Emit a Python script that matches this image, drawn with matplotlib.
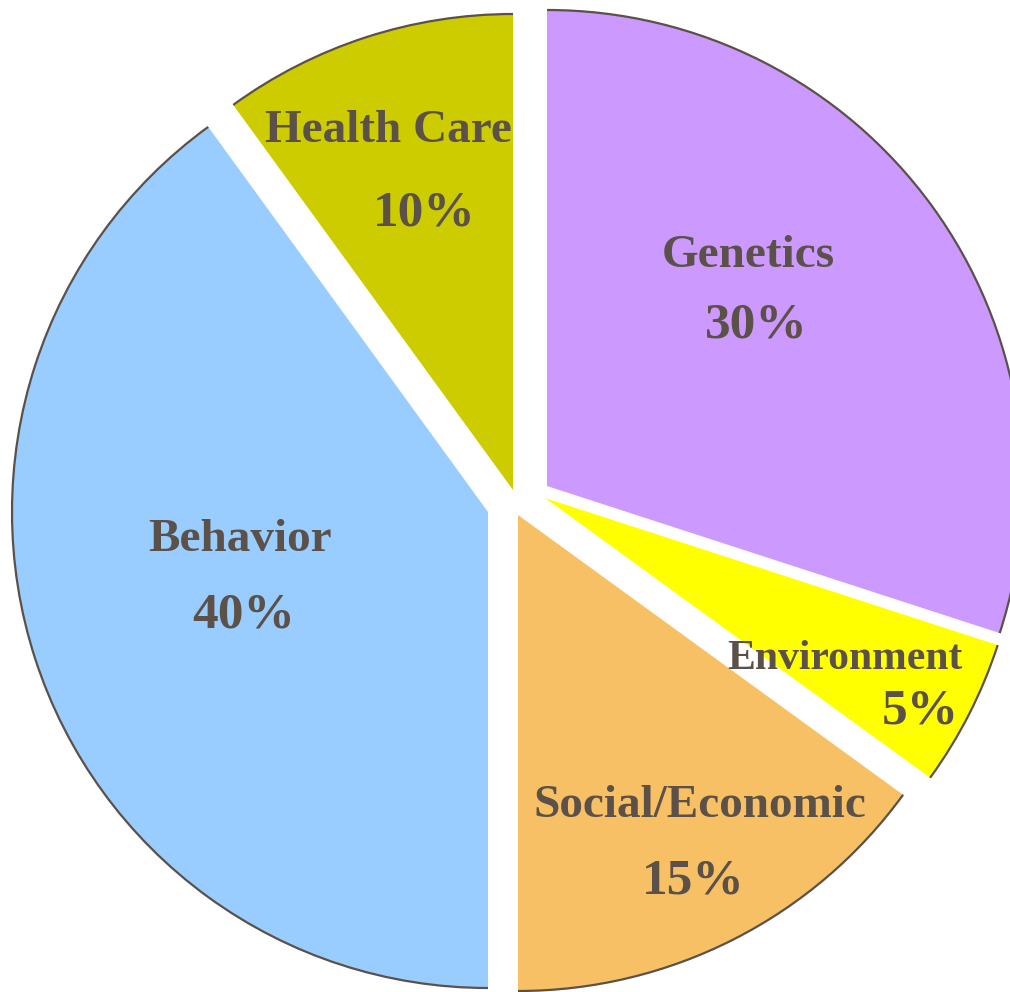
import matplotlib
matplotlib.use("Agg")
import matplotlib.pyplot as plt
from matplotlib.patches import Arc

labels = ["Genetics", "Environment", "Social/Economic", "Behavior", "Health Care"]
shares = [30, 5, 15, 40, 10]
colors = ["#CC99FF", "#FFFF00", "#F8C064", "#99CCFF", "#CCCC00"]

TEXT_COLOR = "#5B5149"
EDGE_COLOR = "#5B5149"

W, H = 1010, 992
CX, CY, R = 518, 502, 476  # pie centre and radius in pixels

# the slices are pulled apart by hand, not straight along their bisector,
# so each one gets its own shift (pixels, y down)
slice_shift = [(29, -16), (27, -4), (0, 13), (-30, 10), (-5, -12)]


def px(x, y):
    # pixel position (y down) -> data coords of the pie axes
    return (x - CX) / R, (CY - y) / R


fig = plt.figure(figsize=(W / 100, H / 100), dpi=100)
ax = fig.add_axes([0, 0, 1, 1])

wedges, _ = ax.pie(
    shares, colors=colors, startangle=90, counterclock=False, radius=1,
    wedgeprops=dict(linewidth=0),
)

for w, (dx, dy) in zip(wedges, slice_shift):
    w.set_center((dx / R, -dy / R))
    # only the outer rim of every slice is outlined
    ax.add_patch(Arc(w.center, 2 * w.r, 2 * w.r, theta1=w.theta1,
                     theta2=w.theta2, color=EDGE_COLOR, lw=1.6, zorder=3))

# label baselines (pixel x centre, baseline y)
name_pos = [(748, 267), (845, 669), (700, 817), (240, 551), (388, 142)]
pct_pos = [(756, 337), (920, 724), (693, 893), (244, 628), (424, 225)]
name_size = [34, 30, 34, 34, 34]

font = dict(family=["Liberation Serif", "DejaVu Serif"], weight="bold",
            color=TEXT_COLOR)
for lab, val, npos, ppos, fs in zip(labels, shares, name_pos, pct_pos, name_size):
    ax.text(*px(*npos), lab, ha="center", va="baseline", fontsize=fs,
            zorder=4, **font)
    ax.text(*px(*ppos), f"{val}%", ha="center", va="baseline", fontsize=37,
            zorder=4, **font)

ax.set_xlim(-CX / R, (W - CX) / R)
ax.set_ylim(-(H - CY) / R, CY / R)
ax.set_aspect("auto")
ax.axis("off")

fig.savefig("out.png", dpi=100, facecolor="white")
